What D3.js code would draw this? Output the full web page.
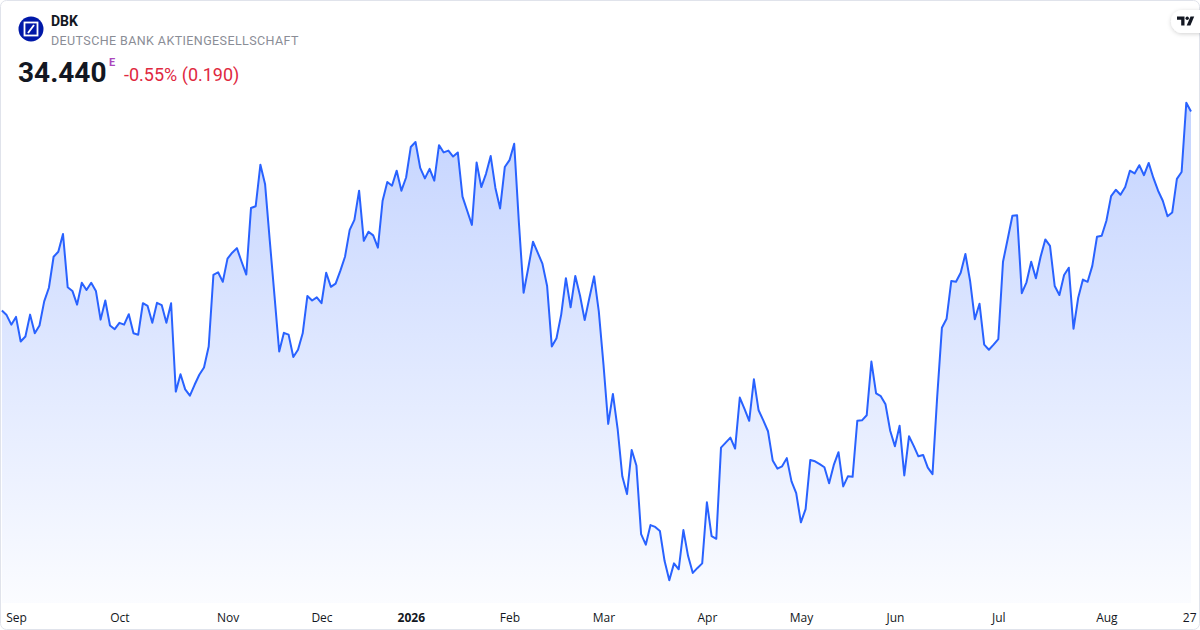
<!DOCTYPE html>
<html>
<head>
<meta charset="utf-8">
<script src="https://cdn.jsdelivr.net/npm/d3@7"></script>
<style>
  html, body { margin: 0; padding: 0; background: #ffffff; }
  svg { display: block; }
  .axis text { font-family: "Open Sans", sans-serif; font-size: 12px; fill: #131722; }
</style>
</head>
<body>
<svg id="chart" width="1200" height="630"></svg>
<script>
// DBK daily closes, Aug 27 2025 .. Aug 27 2026 (Xetra trading days)
var startDate = "2025-08-27";
var endDate = "2026-08-27";
var holidays = ["2025-12-24", "2025-12-25", "2025-12-26", "2025-12-31",
                "2026-01-01", "2026-04-03", "2026-04-06", "2026-05-01"];

var prices = [
  30.07, 29.97, 29.76, 29.93, 29.39, 29.50, 29.98, 29.57, 29.74, 30.27,
  30.57, 31.25, 31.36, 31.75, 30.58, 30.50, 30.20, 30.68, 30.52, 30.68,
  30.50, 29.87, 30.29, 29.74, 29.66, 29.80, 29.76, 29.99, 29.57, 29.54,
  30.23, 30.17, 29.80, 30.24, 30.19, 29.80, 30.23, 28.29, 28.67, 28.34,
  28.20, 28.44, 28.66, 28.82, 29.28, 30.85, 30.91, 30.70, 31.21, 31.34,
  31.44, 31.14, 30.86, 32.32, 32.36, 33.27, 32.84, 31.60, 30.39, 29.17,
  29.58, 29.54, 29.05, 29.21, 29.57, 30.39, 30.29, 30.36, 30.23, 30.90,
  30.59, 30.66, 30.94, 31.25, 31.84, 32.06, 32.70, 31.60, 31.80, 31.72,
  31.45, 32.48, 32.89, 32.81, 33.14, 32.70, 32.99, 33.66, 33.77, 33.20,
  32.97, 33.18, 32.92, 33.70, 33.54, 33.58, 33.45, 33.54, 32.57, 32.26,
  31.95, 33.32, 32.78, 33.07, 33.46, 32.76, 32.31, 33.22, 33.37, 33.73,
  32.00, 30.46, 31.01, 31.58, 31.34, 31.10, 30.61, 29.28, 29.46, 29.98,
  30.78, 30.14, 30.83, 30.40, 29.86, 30.35, 30.82, 30.05, 28.88, 27.58,
  28.24, 27.48, 26.43, 26.04, 27.01, 26.67, 25.16, 24.93, 25.36, 25.32,
  25.23, 24.57, 24.15, 24.52, 24.39, 25.25, 24.68, 24.31, 24.42, 24.52,
  25.86, 25.12, 25.06, 27.06, 27.17, 27.28, 27.04, 28.16, 27.91, 27.65,
  28.56, 27.88, 27.66, 27.42, 26.78, 26.60, 26.65, 26.83, 26.32, 26.06,
  25.42, 25.71, 26.79, 26.76, 26.70, 26.63, 26.28, 26.68, 26.96, 26.21,
  26.43, 26.42, 27.65, 27.66, 27.77, 28.95, 28.25, 28.19, 28.01, 27.43,
  27.09, 27.54, 26.45, 27.31, 27.10, 26.87, 26.90, 26.62, 26.48, 28.18,
  29.69, 29.89, 30.72, 30.70, 30.90, 31.31, 30.72, 29.88, 30.22, 29.32,
  29.21, 29.32, 29.44, 31.14, 31.64, 32.15, 32.16, 30.45, 30.69, 31.14,
  30.78, 31.25, 31.63, 31.49, 30.61, 30.41, 30.85, 31.01, 29.67, 30.35,
  30.75, 30.70, 31.05, 31.69, 31.71, 32.04, 32.58, 32.72, 32.61, 32.78,
  33.14, 33.08, 33.26, 33.04, 33.31, 32.98, 32.70, 32.48, 32.14, 32.22,
  32.96, 33.11, 34.63, 34.44
];

var tickLabels = ["Sep", "Oct", "Nov", "Dec", "2026", "Feb", "Mar", "Apr", "May", "Jun", "Jul", "Aug", "27"];

var symbol = "DBK";
var companyName = "DEUTSCHE BANK AKTIENGESELLSCHAFT";
var lastPrice = "34.440";
var changeText = "-0.55% (0.190)";

// trading calendar
var parseDay = d3.utcParse("%Y-%m-%d");
var fmtDay = d3.utcFormat("%Y-%m-%d");
var dates = d3.utcDay.range(parseDay(startDate), d3.utcDay.offset(parseDay(endDate), 1))
    .filter(function(d) {
        var wd = d.getUTCDay();
        return wd !== 0 && wd !== 6 && holidays.indexOf(fmtDay(d)) < 0;
    });

var data = prices.map(function(p, i) { return { i: i, date: dates[i], price: p }; });

// first trading day of each month + last day
var tickIdx = [];
data.forEach(function(d, i) {
    if (i > 0 && d.date.getUTCMonth() !== data[i - 1].date.getUTCMonth()) tickIdx.push(i);
});
tickIdx.push(data.length - 1);

var svg = d3.select("#chart");
var plotTop = 80, plotBottom = 603;

var x = d3.scaleLinear()
    .domain([0, data.length - 1])
    .range([1.9, 1191]);

var y = d3.scaleLinear()
    .domain([23.65, 35.13])
    .range([plotBottom, plotTop]);

// card frame
svg.append("rect")
    .attr("x", 0.5).attr("y", 0.5)
    .attr("width", 1199).attr("height", 629)
    .attr("rx", 6)
    .style("fill", "#ffffff")
    .style("stroke", "#e0e3eb");

var defs = svg.append("defs");
var grad = defs.append("linearGradient")
    .attr("id", "areaFill")
    .attr("gradientUnits", "userSpaceOnUse")
    .attr("x1", 0).attr("x2", 0)
    .attr("y1", y(d3.max(prices))).attr("y2", plotBottom);
grad.append("stop").attr("offset", "0%").attr("stop-color", "#2962ff").attr("stop-opacity", 0.28);
grad.append("stop").attr("offset", "100%").attr("stop-color", "#2962ff").attr("stop-opacity", 0.02);

var shadow = defs.append("filter").attr("id", "pillShadow")
    .attr("x", "-50%").attr("y", "-50%").attr("width", "200%").attr("height", "200%");
shadow.append("feDropShadow")
    .attr("dx", 0).attr("dy", 1).attr("stdDeviation", 2)
    .attr("flood-color", "#000000").attr("flood-opacity", 0.18);

var area = d3.area()
    .x(function(d) { return x(d.i); })
    .y0(plotBottom)
    .y1(function(d) { return y(d.price); });

var line = d3.line()
    .x(function(d) { return x(d.i); })
    .y(function(d) { return y(d.price); });

svg.append("path")
    .datum(data)
    .attr("d", area)
    .style("fill", "url(#areaFill)");

svg.append("path")
    .datum(data)
    .attr("d", line)
    .style("fill", "none")
    .style("stroke", "#2962ff")
    .style("stroke-width", 2)
    .style("stroke-linejoin", "round");

// time axis
var xAxis = d3.axisBottom(x)
    .tickValues(tickIdx)
    .tickSize(0)
    .tickPadding(0)
    .tickFormat(function(d, i) { return tickLabels[i]; });

var axisG = svg.append("g")
    .attr("class", "axis")
    .attr("transform", "translate(0, 613)")
    .call(xAxis);
axisG.select(".domain").remove();
axisG.selectAll("text")
    .style("font-weight", function(d, i) { return tickLabels[i] === "2026" ? 700 : 400; })
    .attr("text-anchor", function(d, i) { return i === tickIdx.length - 1 ? "end" : "middle"; })
    .attr("dx", function(d, i) { return i === tickIdx.length - 1 ? "5px" : 0; });

// header
var logo = svg.append("g").attr("transform", "translate(31, 29)");
logo.append("circle").attr("r", 12.5).style("fill", "#0018a8");
logo.append("rect")
    .attr("x", -6.5).attr("y", -6.5).attr("width", 13).attr("height", 13)
    .style("fill", "none").style("stroke", "#ffffff").style("stroke-width", 1.8);
logo.append("line")
    .attr("x1", -3).attr("y1", 4).attr("x2", 3).attr("y2", -4)
    .style("stroke", "#ffffff").style("stroke-width", 1.8);

svg.append("text")
    .attr("x", 51).attr("y", 26)
    .style("font-family", "Roboto, sans-serif")
    .style("font-size", "14px").style("font-weight", 700)
    .style("fill", "#131722")
    .text(symbol);

svg.append("text")
    .attr("x", 51).attr("y", 45)
    .style("font-family", "Roboto, sans-serif")
    .style("font-size", "12.5px").style("letter-spacing", "0.4px")
    .style("fill", "#8a8d96")
    .text(companyName);

svg.append("text")
    .attr("x", 18).attr("y", 82)
    .style("font-family", "Roboto, sans-serif")
    .style("font-size", "28px").style("font-weight", 700)
    .style("fill", "#131722")
    .text(lastPrice);

svg.append("text")
    .attr("x", 109).attr("y", 66)
    .style("font-family", "Roboto, sans-serif")
    .style("font-size", "11px").style("font-weight", 700)
    .style("fill", "#ab47bc")
    .text("E");

svg.append("text")
    .attr("x", 124).attr("y", 81)
    .style("font-family", "Roboto, sans-serif")
    .style("font-size", "18px")
    .style("fill", "#e0293f")
    .text(changeText);

// tradingview pill
svg.append("rect")
    .attr("x", 1171).attr("y", 10).attr("width", 40).attr("height", 23).attr("rx", 11.5)
    .attr("filter", "url(#pillShadow)")
    .style("fill", "#ffffff");
var tv = svg.append("g").attr("transform", "translate(1177, 16.5)").style("fill", "#131722");
tv.append("path").attr("d", "M0 0 H7.5 V9 H4.2 V3.3 H0 Z");
tv.append("circle").attr("cx", 10.2).attr("cy", 1.7).attr("r", 1.7);
tv.append("path").attr("d", "M13.5 0 H17.2 L13.4 9 H9.7 Z");
</script>
</body>
</html>
